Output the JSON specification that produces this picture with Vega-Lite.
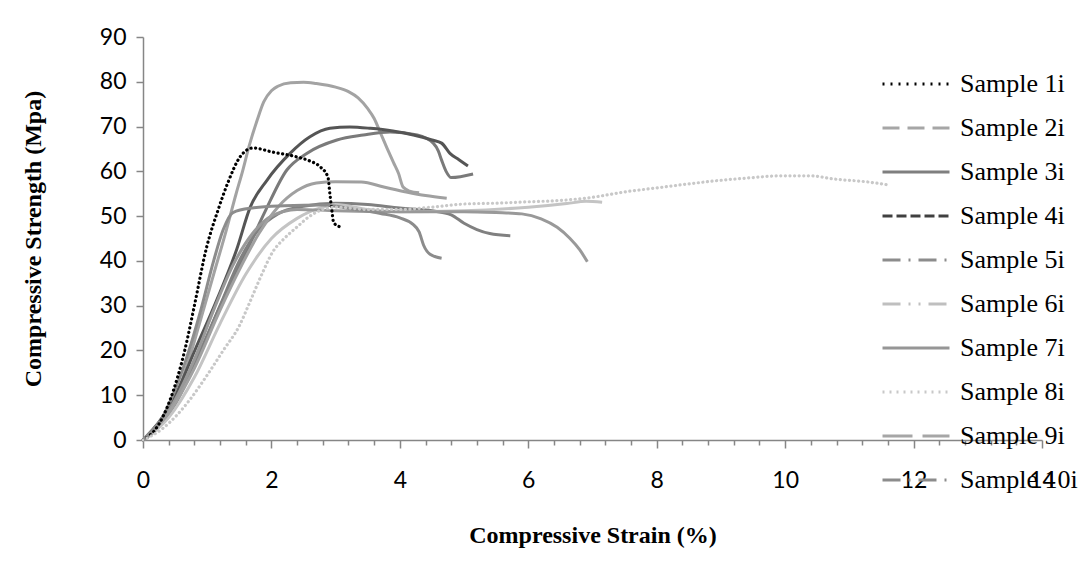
{
  "$schema": "https://vega.github.io/schema/vega-lite/v6.json",
  "width": 899,
  "height": 403,
  "autosize": "none",
  "padding": {"left": 143, "top": 37, "right": 36, "bottom": 137},
  "background": "#ffffff",
  "config": {"view": {"stroke": null}},
  "data": {"values": [
    {"sample":"Sample 1i","strain":0,"stress":0},{"sample":"Sample 1i","strain":0.2,"stress":2.5},{"sample":"Sample 1i","strain":0.42,"stress":8.9},{"sample":"Sample 1i","strain":0.65,"stress":20},{"sample":"Sample 1i","strain":0.8,"stress":30},{"sample":"Sample 1i","strain":0.99,"stress":43},{"sample":"Sample 1i","strain":1.17,"stress":51.4},{"sample":"Sample 1i","strain":1.32,"stress":57.4},{"sample":"Sample 1i","strain":1.51,"stress":63.2},{"sample":"Sample 1i","strain":1.71,"stress":65.2},{"sample":"Sample 1i","strain":2.02,"stress":64.3},{"sample":"Sample 1i","strain":2.4,"stress":63.2},{"sample":"Sample 1i","strain":2.6,"stress":62.3},{"sample":"Sample 1i","strain":2.76,"stress":61},{"sample":"Sample 1i","strain":2.88,"stress":58.7},{"sample":"Sample 1i","strain":2.91,"stress":55},{"sample":"Sample 1i","strain":2.94,"stress":51.4},{"sample":"Sample 1i","strain":2.97,"stress":48.5},{"sample":"Sample 1i","strain":3.07,"stress":47.6},
    {"sample":"Sample 2i","strain":0,"stress":0},{"sample":"Sample 2i","strain":0.3,"stress":4},{"sample":"Sample 2i","strain":0.6,"stress":13},{"sample":"Sample 2i","strain":0.9,"stress":27},{"sample":"Sample 2i","strain":1.1,"stress":37},{"sample":"Sample 2i","strain":1.3,"stress":47},{"sample":"Sample 2i","strain":1.45,"stress":55},{"sample":"Sample 2i","strain":1.55,"stress":60},{"sample":"Sample 2i","strain":1.65,"stress":65.5},{"sample":"Sample 2i","strain":1.78,"stress":71.5},{"sample":"Sample 2i","strain":1.88,"stress":75.5},{"sample":"Sample 2i","strain":2.0,"stress":78},{"sample":"Sample 2i","strain":2.1,"stress":79},{"sample":"Sample 2i","strain":2.3,"stress":79.8},{"sample":"Sample 2i","strain":2.5,"stress":79.9},{"sample":"Sample 2i","strain":2.7,"stress":79.6},{"sample":"Sample 2i","strain":3.0,"stress":78.8},{"sample":"Sample 2i","strain":3.2,"stress":77.8},{"sample":"Sample 2i","strain":3.35,"stress":76.4},{"sample":"Sample 2i","strain":3.5,"stress":74},{"sample":"Sample 2i","strain":3.6,"stress":71.8},{"sample":"Sample 2i","strain":3.7,"stress":68.5},{"sample":"Sample 2i","strain":3.8,"stress":65.2},{"sample":"Sample 2i","strain":3.9,"stress":62},{"sample":"Sample 2i","strain":3.98,"stress":59.5},{"sample":"Sample 2i","strain":4.05,"stress":56.5},{"sample":"Sample 2i","strain":4.15,"stress":55.6},{"sample":"Sample 2i","strain":4.3,"stress":55.2},
    {"sample":"Sample 3i","strain":0,"stress":0},{"sample":"Sample 3i","strain":0.5,"stress":8},{"sample":"Sample 3i","strain":0.9,"stress":20},{"sample":"Sample 3i","strain":1.3,"stress":33},{"sample":"Sample 3i","strain":1.62,"stress":42.4},{"sample":"Sample 3i","strain":1.9,"stress":51},{"sample":"Sample 3i","strain":2.24,"stress":60.3},{"sample":"Sample 3i","strain":2.55,"stress":64},{"sample":"Sample 3i","strain":3.02,"stress":67},{"sample":"Sample 3i","strain":3.43,"stress":68.1},{"sample":"Sample 3i","strain":3.85,"stress":68.8},{"sample":"Sample 3i","strain":4.27,"stress":68.1},{"sample":"Sample 3i","strain":4.52,"stress":66.3},{"sample":"Sample 3i","strain":4.6,"stress":64.5},{"sample":"Sample 3i","strain":4.65,"stress":62.5},{"sample":"Sample 3i","strain":4.72,"stress":60},{"sample":"Sample 3i","strain":4.8,"stress":58.6},{"sample":"Sample 3i","strain":5.14,"stress":59.4},
    {"sample":"Sample 4i","strain":0,"stress":0},{"sample":"Sample 4i","strain":0.47,"stress":8.9},{"sample":"Sample 4i","strain":0.81,"stress":20.1},{"sample":"Sample 4i","strain":1.15,"stress":31.3},{"sample":"Sample 4i","strain":1.46,"stress":42.6},{"sample":"Sample 4i","strain":1.67,"stress":52},{"sample":"Sample 4i","strain":1.93,"stress":58},{"sample":"Sample 4i","strain":2.29,"stress":64},{"sample":"Sample 4i","strain":2.6,"stress":67.7},{"sample":"Sample 4i","strain":2.91,"stress":69.6},{"sample":"Sample 4i","strain":3.22,"stress":69.9},{"sample":"Sample 4i","strain":3.54,"stress":69.6},{"sample":"Sample 4i","strain":3.89,"stress":69},{"sample":"Sample 4i","strain":4.21,"stress":68.1},{"sample":"Sample 4i","strain":4.5,"stress":67},{"sample":"Sample 4i","strain":4.65,"stress":66.3},{"sample":"Sample 4i","strain":4.78,"stress":64},{"sample":"Sample 4i","strain":4.92,"stress":62.6},{"sample":"Sample 4i","strain":5.06,"stress":61.2},
    {"sample":"Sample 5i","strain":0,"stress":0},{"sample":"Sample 5i","strain":0.4,"stress":6},{"sample":"Sample 5i","strain":0.8,"stress":17},{"sample":"Sample 5i","strain":1.2,"stress":30},{"sample":"Sample 5i","strain":1.5,"stress":40},{"sample":"Sample 5i","strain":1.8,"stress":47},{"sample":"Sample 5i","strain":2.1,"stress":50.5},{"sample":"Sample 5i","strain":2.5,"stress":52.2},{"sample":"Sample 5i","strain":3.0,"stress":52.9},{"sample":"Sample 5i","strain":3.5,"stress":52.6},{"sample":"Sample 5i","strain":4.0,"stress":51.8},{"sample":"Sample 5i","strain":4.5,"stress":51.2},{"sample":"Sample 5i","strain":4.8,"stress":50.3},{"sample":"Sample 5i","strain":5.0,"stress":48.4},{"sample":"Sample 5i","strain":5.2,"stress":47},{"sample":"Sample 5i","strain":5.4,"stress":46.1},{"sample":"Sample 5i","strain":5.72,"stress":45.6},
    {"sample":"Sample 6i","strain":0,"stress":0},{"sample":"Sample 6i","strain":0.4,"stress":5},{"sample":"Sample 6i","strain":0.8,"stress":14},{"sample":"Sample 6i","strain":1.2,"stress":26},{"sample":"Sample 6i","strain":1.6,"stress":37},{"sample":"Sample 6i","strain":2.0,"stress":45},{"sample":"Sample 6i","strain":2.4,"stress":49.5},{"sample":"Sample 6i","strain":2.8,"stress":52},{"sample":"Sample 6i","strain":3.0,"stress":52.6},{"sample":"Sample 6i","strain":3.5,"stress":51.5},{"sample":"Sample 6i","strain":4.0,"stress":51},{"sample":"Sample 6i","strain":5.0,"stress":51.2},{"sample":"Sample 6i","strain":6.0,"stress":52},{"sample":"Sample 6i","strain":6.6,"stress":52.8},{"sample":"Sample 6i","strain":6.9,"stress":53.3},{"sample":"Sample 6i","strain":7.15,"stress":53.1},
    {"sample":"Sample 7i","strain":0,"stress":0},{"sample":"Sample 7i","strain":0.4,"stress":6.5},{"sample":"Sample 7i","strain":0.8,"stress":18},{"sample":"Sample 7i","strain":1.1,"stress":29},{"sample":"Sample 7i","strain":1.4,"stress":39},{"sample":"Sample 7i","strain":1.7,"stress":46},{"sample":"Sample 7i","strain":2.0,"stress":50},{"sample":"Sample 7i","strain":2.4,"stress":51.5},{"sample":"Sample 7i","strain":3.0,"stress":51.2},{"sample":"Sample 7i","strain":4.0,"stress":51},{"sample":"Sample 7i","strain":5.0,"stress":51},{"sample":"Sample 7i","strain":5.5,"stress":50.8},{"sample":"Sample 7i","strain":5.9,"stress":50.5},{"sample":"Sample 7i","strain":6.2,"stress":49.4},{"sample":"Sample 7i","strain":6.45,"stress":47.5},{"sample":"Sample 7i","strain":6.65,"stress":45},{"sample":"Sample 7i","strain":6.8,"stress":42.5},{"sample":"Sample 7i","strain":6.92,"stress":39.8},
    {"sample":"Sample 8i","strain":0,"stress":0},{"sample":"Sample 8i","strain":0.3,"stress":2.5},{"sample":"Sample 8i","strain":0.73,"stress":9},{"sample":"Sample 8i","strain":1.0,"stress":14.5},{"sample":"Sample 8i","strain":1.25,"stress":20},{"sample":"Sample 8i","strain":1.5,"stress":25.5},{"sample":"Sample 8i","strain":1.67,"stress":31},{"sample":"Sample 8i","strain":1.85,"stress":37},{"sample":"Sample 8i","strain":2.02,"stress":42},{"sample":"Sample 8i","strain":2.2,"stress":45},{"sample":"Sample 8i","strain":2.4,"stress":47.6},{"sample":"Sample 8i","strain":2.6,"stress":50},{"sample":"Sample 8i","strain":2.8,"stress":51.5},{"sample":"Sample 8i","strain":3.0,"stress":52},{"sample":"Sample 8i","strain":3.5,"stress":51.5},{"sample":"Sample 8i","strain":4.0,"stress":51.5},{"sample":"Sample 8i","strain":4.5,"stress":52},{"sample":"Sample 8i","strain":5.0,"stress":52.7},{"sample":"Sample 8i","strain":5.5,"stress":52.9},{"sample":"Sample 8i","strain":6.0,"stress":53.2},{"sample":"Sample 8i","strain":6.5,"stress":53.5},{"sample":"Sample 8i","strain":7.0,"stress":54.2},{"sample":"Sample 8i","strain":7.5,"stress":55.4},{"sample":"Sample 8i","strain":8.0,"stress":56.3},{"sample":"Sample 8i","strain":8.5,"stress":57.2},{"sample":"Sample 8i","strain":9.0,"stress":58},{"sample":"Sample 8i","strain":9.5,"stress":58.6},{"sample":"Sample 8i","strain":9.9,"stress":59},{"sample":"Sample 8i","strain":10.4,"stress":59},{"sample":"Sample 8i","strain":10.75,"stress":58.3},{"sample":"Sample 8i","strain":11.3,"stress":57.6},{"sample":"Sample 8i","strain":11.64,"stress":56.9},
    {"sample":"Sample 9i","strain":0,"stress":0},{"sample":"Sample 9i","strain":0.4,"stress":6},{"sample":"Sample 9i","strain":0.8,"stress":16},{"sample":"Sample 9i","strain":1.2,"stress":29},{"sample":"Sample 9i","strain":1.5,"stress":38},{"sample":"Sample 9i","strain":1.8,"stress":46},{"sample":"Sample 9i","strain":2.1,"stress":52},{"sample":"Sample 9i","strain":2.4,"stress":55.7},{"sample":"Sample 9i","strain":2.7,"stress":57.4},{"sample":"Sample 9i","strain":3.0,"stress":57.7},{"sample":"Sample 9i","strain":3.4,"stress":57.6},{"sample":"Sample 9i","strain":3.75,"stress":56.5},{"sample":"Sample 9i","strain":4.1,"stress":55.4},{"sample":"Sample 9i","strain":4.4,"stress":54.6},{"sample":"Sample 9i","strain":4.73,"stress":54},
    {"sample":"Sample 10i","strain":0,"stress":0},{"sample":"Sample 10i","strain":0.3,"stress":5},{"sample":"Sample 10i","strain":0.6,"stress":15},{"sample":"Sample 10i","strain":0.9,"stress":29},{"sample":"Sample 10i","strain":1.1,"stress":40},{"sample":"Sample 10i","strain":1.25,"stress":47},{"sample":"Sample 10i","strain":1.4,"stress":50.8},{"sample":"Sample 10i","strain":1.7,"stress":51.8},{"sample":"Sample 10i","strain":2.2,"stress":52.3},{"sample":"Sample 10i","strain":2.8,"stress":52.5},{"sample":"Sample 10i","strain":3.3,"stress":51.5},{"sample":"Sample 10i","strain":3.7,"stress":50.6},{"sample":"Sample 10i","strain":4.0,"stress":49.6},{"sample":"Sample 10i","strain":4.2,"stress":48.2},{"sample":"Sample 10i","strain":4.3,"stress":46.5},{"sample":"Sample 10i","strain":4.37,"stress":43.5},{"sample":"Sample 10i","strain":4.47,"stress":41.5},{"sample":"Sample 10i","strain":4.65,"stress":40.6}
  ]},
  "encoding": {
    "x": {"field": "strain", "type": "quantitative", "scale": {"domain": [0, 14], "nice": false},
      "axis": {"title": "Compressive Strain (%)", "grid": false,
        "values": [0,0.4,0.8,1.2,1.6,2,2.4,2.8,3.2,3.6,4,4.4,4.8,5.2,5.6,6,6.4,6.8,7.2,7.6,8,8.4,8.8,9.2,9.6,10,10.4,10.8,11.2,11.6,12,12.4,12.8,13.2,13.6,14],
        "labelExpr": "abs(datum.value/2-round(datum.value/2))<0.001 ? format(datum.value,'d') : ''",
        "domainColor": "#868686", "domainWidth": 1.5, "tickColor": "#868686", "tickWidth": 1.5,
        "tickSize": {"condition": {"test": "abs(datum.value/2-round(datum.value/2))<0.001", "value": 8}, "value": 5},
        "labelFont": "Lato", "labelFontSize": 23, "labelColor": "#000000", "labelPadding": 21, "labelFlush": false, "labelOverlap": false,
        "titleFont": "Liberation Serif", "titleFontWeight": "bold", "titleFontSize": 24, "titleColor": "#000000", "titlePadding": 31}},
    "y": {"field": "stress", "type": "quantitative", "scale": {"domain": [0, 90], "nice": false},
      "axis": {"title": "Compressive Strength (Mpa)", "grid": false, "values": [0,10,20,30,40,50,60,70,80,90],
        "domainColor": "#868686", "domainWidth": 1.5, "tickColor": "#868686", "tickWidth": 1.5, "tickSize": 7,
        "labelFont": "Lato", "labelFontSize": 23, "labelColor": "#000000", "labelPadding": 10,
        "titleFont": "Liberation Serif", "titleFontWeight": "bold", "titleFontSize": 24, "titleColor": "#000000", "titlePadding": 54}}
  },
  "layer": [
    {"transform": [{"filter": "datum.sample != 'Sample 1i' && datum.sample != 'Sample 8i'"}],
     "mark": {"type": "line", "strokeWidth": 3, "interpolate": "monotone"},
     "encoding": {"stroke": {"field": "sample", "type": "nominal", "legend": null,
       "scale": {"domain": ["Sample 10i","Sample 9i","Sample 8i","Sample 7i","Sample 6i","Sample 5i","Sample 4i","Sample 3i","Sample 2i","Sample 1i"],
                 "range": ["#8c8c8c","#a0a0a0","#c8c8c8","#999999","#c4c4c4","#808080","#555555","#7a7a7a","#a3a3a3","#000000"]}}}},
    {"transform": [{"filter": "datum.sample == 'Sample 1i' || datum.sample == 'Sample 8i'"}],
     "mark": {"type": "line", "strokeWidth": 3.2, "strokeDash": [0.1, 4.5], "strokeCap": "round", "interpolate": "monotone"},
     "encoding": {"stroke": {"field": "sample", "type": "nominal", "legend": null}}},
    {"transform": [{"filter": "datum.strain == 0"}],
     "mark": {"type": "line", "strokeWidth": 3},
     "encoding": {
       "color": {"field": "sample", "type": "nominal",
         "scale": {"domain": ["Sample 1i","Sample 2i","Sample 3i","Sample 4i","Sample 5i","Sample 6i","Sample 7i","Sample 8i","Sample 9i","Sample 10i"],
                   "range": ["#000000","#a6a6a6","#7f7f7f","#404040","#8c8c8c","#bfbfbf","#969696","#c8c8c8","#a6a6a6","#8c8c8c"]},
         "legend": {"title": null, "orient": "none", "legendX": 738, "legendY": 27, "symbolType": "stroke", "symbolSize": 4489, "symbolStrokeWidth": 3,
           "labelFont": "Liberation Serif", "labelFontSize": 26, "labelColor": "#000000", "labelOffset": 9, "rowPadding": 4, "clipHeight": 40, "padding": 0, "symbolOpacity": 1}},
       "strokeDash": {"field": "sample", "type": "nominal",
         "scale": {"domain": ["Sample 1i","Sample 2i","Sample 3i","Sample 4i","Sample 5i","Sample 6i","Sample 7i","Sample 8i","Sample 9i","Sample 10i"],
                   "range": [[2,6],[17,8],[1,0],[10,4],[18,8,2,8],[18,8,2,8,2,8],[1,0],[2,5],[30,10],[18,8,2,8]]},
         "legend": {"title": null, "orient": "none", "legendX": 738, "legendY": 27, "symbolType": "stroke", "symbolSize": 4489, "symbolStrokeWidth": 3,
           "labelFont": "Liberation Serif", "labelFontSize": 26, "labelColor": "#000000", "labelOffset": 9, "rowPadding": 4, "clipHeight": 40, "padding": 0, "symbolOpacity": 1}}
     }}
  ]
}
